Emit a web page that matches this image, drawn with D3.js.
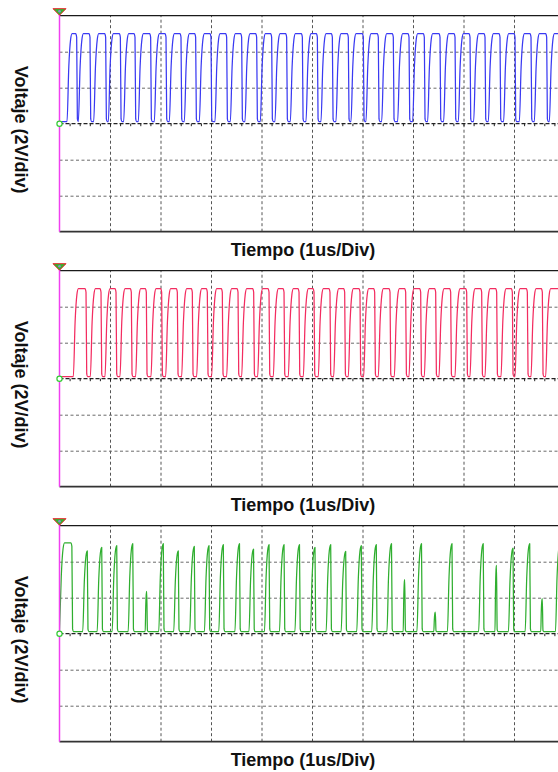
<!DOCTYPE html>
<html>
<head>
<meta charset="utf-8">
<script src="https://cdn.jsdelivr.net/npm/d3@7"></script>
<style>
html, body { margin: 0; padding: 0; background: #fff; }
svg { display: block; }
.lbl { font-family: "Liberation Sans", Arial, sans-serif; font-weight: bold; font-size: 18px; fill: #111; }
</style>
</head>
<body>
<svg id="chart" width="558" height="772"></svg>
<script>
// time in us (1us/div), voltage in V (2V/div)
var timeTicks = [1, 2, 3, 4, 5, 6, 7, 8, 9];
var voltTicks = [-4, -2, 2, 4];
var minorTicks = d3.range(0, 10.01, 0.2);
var xLabel = "Tiempo (1us/Div)";
var yLabel = "Voltaje (2V/div)";

// blue channel: edges
var blueRise = [0.149, 0.373, 0.677, 0.967, 1.271, 1.561, 1.878, 2.175, 2.472, 2.769, 3.079,
  3.383, 3.673, 3.977, 4.267, 4.571, 4.881, 5.178, 5.475, 5.772, 6.069, 6.380, 6.696, 6.993,
  7.290, 7.607, 7.898, 8.201, 8.492, 8.795, 9.106, 9.403, 9.700];
var blueFall = [0.340, 0.604, 0.914, 1.205, 1.495, 1.805, 2.109, 2.406, 2.696, 3.000, 3.310,
  3.607, 3.904, 4.201, 4.498, 4.809, 5.106, 5.403, 5.719, 6.016, 6.313, 6.610, 6.921, 7.224,
  7.535, 7.832, 8.129, 8.426, 8.723, 9.020, 9.337, 9.647, 9.950];
var blueHigh = 5.0;

// red channel
var redRise = [0.274, 0.611, 0.901, 1.198, 1.508, 1.812, 2.102, 2.419, 2.716, 3.013, 3.310,
  3.607, 3.924, 4.234, 4.531, 4.828, 5.125, 5.429, 5.719, 6.023, 6.313, 6.630, 6.921, 7.224,
  7.515, 7.832, 8.129, 8.426, 8.743, 9.020, 9.337, 9.627];
var redFall = [0.525, 0.822, 1.119, 1.422, 1.719, 2.023, 2.333, 2.630, 2.927, 3.224, 3.535,
  3.845, 4.149, 4.446, 4.743, 5.040, 5.356, 5.647, 5.950, 6.241, 6.545, 6.855, 7.152, 7.449,
  7.746, 8.063, 8.360, 8.657, 8.967, 9.264, 9.561, 9.900];
var redHigh = 5.0;

// green channel: uneven pulses and spikes
var greenRise = [0.000, 0.460, 0.746, 1.043, 1.360, 1.697, 1.965, 2.262, 2.579, 2.870, 3.154,
  3.474, 3.752, 4.059, 4.356, 4.662, 4.969, 5.280, 5.577, 5.886, 6.183, 6.484, 6.806, 7.078,
  7.412, 7.682, 8.300, 8.623, 8.890, 9.221, 9.530, 9.821];
var greenFall = [0.245, 0.550, 0.836, 1.133, 1.450, 1.727, 2.055, 2.352, 2.669, 2.960, 3.244,
  3.564, 3.842, 4.149, 4.446, 4.752, 5.059, 5.370, 5.667, 5.976, 6.273, 6.574, 6.836, 7.168,
  7.442, 7.772, 8.390, 8.653, 8.980, 9.311, 9.560, 9.911];
var greenPeak = [5.05, 4.6, 4.8, 4.9, 5.0, 2.35, 5.0, 4.6, 4.85, 4.9, 4.95,
  5.0, 4.7, 4.95, 4.95, 4.95, 4.8, 4.95, 4.57, 4.9, 4.95, 5.0, 3.0, 5.0,
  1.2, 5.0, 5.0, 3.8, 4.75, 5.0, 1.95, 5.0];

var lowLevel = 0.12;
var ramp = 0.1;

var channels = [
  { rise: blueRise, fall: blueFall, high: blueRise.map(function () { return blueHigh; }), color: "#3a3af2" },
  { rise: redRise, fall: redFall, high: redRise.map(function () { return redHigh; }), color: "#f32c60" },
  { rise: greenRise, fall: greenFall, high: greenPeak, color: "#2fae2f" }
];

var svg = d3.select("#chart");
var left = 59.5, divW = 50.5, plotH = 216;
var panelTop = [15.7, 270.7, 525.7];

var x = d3.scaleLinear().domain([0, 10]).range([left, left + 10 * divW]);

svg.append("defs").append("clipPath").attr("id", "clip")
  .append("rect").attr("x", left).attr("y", -4).attr("width", 558 - left).attr("height", plotH + 8);

// edges -> outline of each pulse (slow rounded rise, sharp fall)
function wavePoints(ch) {
  var pts = [];
  if (ch.rise[0] > 0) pts.push([0, lowLevel]);
  ch.rise.forEach(function (r, i) {
    var f = ch.fall[i], L = ch.high[i], h = L - lowLevel;
    var top = Math.min(r + ramp, f);
    var w = top - r;
    pts.push([r, lowLevel]);
    pts.push([r + w * 0.35, lowLevel + h * 0.62]);
    pts.push([r + w * 0.7, lowLevel + h * 0.93]);
    pts.push([top, L]);
    if (f > top + 0.03) {
      pts.push([f - 0.02, L]);
      pts.push([f, L - h * 0.04]);
    }
    pts.push([f + 0.014, lowLevel + h * 0.03]);
    pts.push([f + 0.03, lowLevel]);
  });
  return pts;
}

channels.forEach(function (ch, k) {
  var g = svg.append("g").attr("transform", "translate(0," + panelTop[k] + ")");
  var y = d3.scaleLinear().domain([-6, 6]).range([plotH, 0]);

  // vertical grid
  g.append("g").attr("class", "vgrid")
    .attr("transform", "translate(0," + plotH + ")")
    .call(d3.axisBottom(x).tickValues(timeTicks).tickSize(-plotH).tickFormat(""))
    .call(function (s) { s.select(".domain").remove(); })
    .selectAll("line").attr("stroke", "#555").attr("stroke-dasharray", "3,2.5");

  // horizontal grid
  g.append("g").attr("class", "hgrid")
    .attr("transform", "translate(" + left + ",0)")
    .call(d3.axisLeft(y).tickValues(voltTicks).tickSize(-(558 - left)).tickFormat(""))
    .call(function (s) { s.select(".domain").remove(); })
    .selectAll("line").attr("stroke", "#6a6a6a").attr("stroke-dasharray", "3,2.5");

  // zero line with minor ticks
  g.append("line").attr("x1", left).attr("x2", 558).attr("y1", y(0)).attr("y2", y(0))
    .attr("stroke", "#222").attr("stroke-width", 1.3).attr("stroke-dasharray", "4,2");
  g.append("g").attr("transform", "translate(0," + y(0) + ")")
    .call(d3.axisBottom(x).tickValues(minorTicks).tickSize(2.5).tickFormat(""))
    .call(function (s) { s.select(".domain").remove(); })
    .selectAll("line").attr("stroke", "#222");

  // frame
  g.append("line").attr("x1", left).attr("x2", 558).attr("y1", y(6)).attr("y2", y(6))
    .attr("stroke", "#1a1a1a").attr("stroke-width", 1.3);
  g.append("line").attr("x1", left).attr("x2", 558).attr("y1", y(-6)).attr("y2", y(-6))
    .attr("stroke", "#333").attr("stroke-width", 1.8);

  // trace
  var line = d3.line()
    .x(function (d) { return x(d[0]); })
    .y(function (d) { return y(d[1]); })
    .curve(d3.curveMonotoneX);
  g.append("path").datum(wavePoints(ch))
    .attr("clip-path", "url(#clip)")
    .attr("fill", "none").attr("stroke", ch.color).attr("stroke-width", 1.25)
    .attr("stroke-linejoin", "round")
    .attr("d", line);

  // left marker axis
  g.append("line").attr("x1", left).attr("x2", left).attr("y1", -3).attr("y2", plotH)
    .attr("stroke", "#f040f0").attr("stroke-width", 1.5);
  g.append("path")
    .attr("d", d3.line()([[left - 6.5, -7], [left + 6.5, -7], [left, -0.5]]) + "Z")
    .attr("fill", "#2eb82e").attr("stroke", "#e8262b").attr("stroke-width", 1);
  g.append("circle").attr("cx", left).attr("cy", -4.5).attr("r", 1.3).attr("fill", "#8a8ad0");
  g.append("circle").attr("cx", left).attr("cy", y(0)).attr("r", 2.6)
    .attr("fill", "#fff").attr("stroke", "#33cc33").attr("stroke-width", 1.2);

  // labels
  g.append("text").attr("class", "lbl")
    .attr("x", 303).attr("y", plotH + 24.5)
    .attr("text-anchor", "middle").text(xLabel);
  g.append("text").attr("class", "lbl")
    .attr("transform", "translate(15," + (plotH / 2 + 6) + ") rotate(90)")
    .attr("text-anchor", "middle").text(yLabel);
});
</script>
</body>
</html>
